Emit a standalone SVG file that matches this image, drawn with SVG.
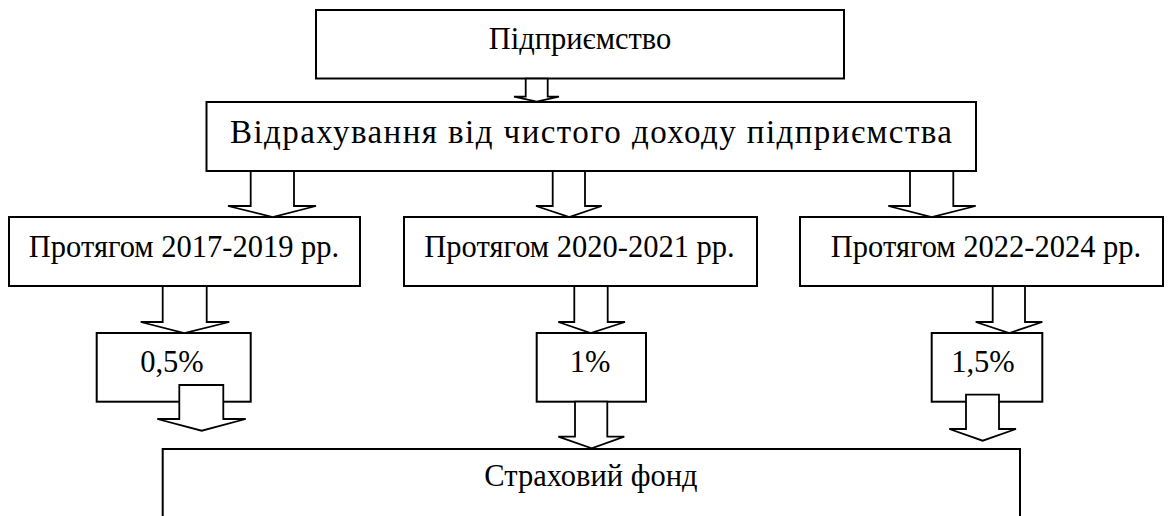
<svg xmlns="http://www.w3.org/2000/svg" width="1168" height="516" viewBox="0 0 1168 516">
<style>
.box{fill:#fff;stroke:#000;stroke-width:2}
.arrow{fill:#fff;stroke:#000;stroke-width:1.8;stroke-linejoin:miter}
text{font-family:'Liberation Serif',Tinos,'Times New Roman',serif;font-size:30.5px;fill:#000;text-anchor:middle}
</style>
<rect width="1168" height="516" fill="#fff"/>
<g id="node-enterprise"><rect class="box" x="316" y="10" width="528" height="68.5"/><text x="580" y="49">Підприємство</text></g>
<g id="node-deductions"><rect class="box" x="206.5" y="102" width="769.5" height="69"/><text x="591" y="143" style="font-size:33px" textLength="722" lengthAdjust="spacing">Відрахування від чистого доходу підприємства</text></g>
<g id="node-p1"><rect class="box" x="9" y="217" width="351" height="69"/><text x="184" y="257">Протягом 2017-2019 рр.</text></g>
<g id="node-p2"><rect class="box" x="404" y="217" width="353" height="69"/><text x="579.5" y="257">Протягом 2020-2021 рр.</text></g>
<g id="node-p3"><rect class="box" x="800" y="217" width="363" height="69"/><text x="986" y="257">Протягом 2022-2024 рр.</text></g>
<g id="node-r1"><rect class="box" x="96.7" y="333" width="154" height="68.7"/><text x="172" y="372">0,5%</text></g>
<g id="node-r2"><rect class="box" x="536.7" y="333" width="109.3" height="68.7"/><text x="590" y="372">1%</text></g>
<g id="node-r3"><rect class="box" x="931.7" y="333" width="110.6" height="68.7"/><text x="983" y="372">1,5%</text></g>
<g id="node-fund"><rect class="box" x="162.7" y="449" width="857.3" height="80"/><text x="591" y="486">Страховий фонд</text></g>
<g id="connectors">
<polygon class="arrow" points="525.7,78.7 547.7,78.7 547.7,96.7 559,96.7 536.7,101.7 514,96.7 525.7,96.7"/>
<polygon class="arrow" points="250.7,171 294,171 294,206 316,206 272.7,217 228,206 250.7,206"/>
<polygon class="arrow" points="552.7,171 585,171 585,206 601.7,206 569.3,217 536,206 552.7,206"/>
<polygon class="arrow" points="910,171 953.3,171 953.3,206 975.7,206 931.7,217 888.3,206 910,206"/>
<polygon class="arrow" points="162.7,286 206.7,286 206.7,322 229.3,322 184.3,333 140.7,322 162.7,322"/>
<polygon class="arrow" points="574.3,286 607.7,286 607.7,322 625,322 590.7,333 558.3,322 574.3,322"/>
<polygon class="arrow" points="992.7,286 1025,286 1025,322 1042.3,322 1009.3,333 975.7,322 992.7,322"/>
<polygon class="arrow" points="179.3,385 223.3,385 223.3,419 245.7,419 201.7,430.7 157.3,419 179.3,419"/>
<polygon class="arrow" points="575,401.7 607.3,401.7 607.3,436.7 624.3,436.7 591.7,448.3 558.3,436.7 575,436.7"/>
<polygon class="arrow" points="966,394.7 999,394.7 999,429 1016,429 982.7,440.7 949.3,429 966,429"/>
</g>
</svg>
